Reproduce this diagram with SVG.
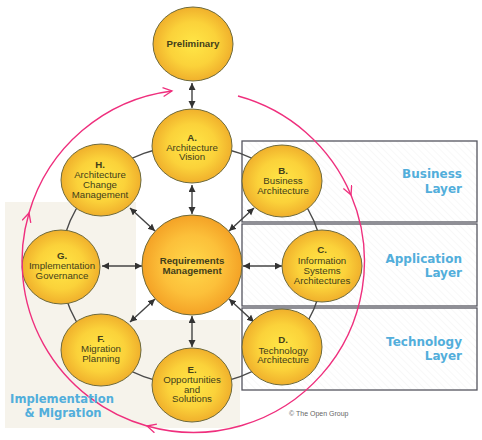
<svg xmlns="http://www.w3.org/2000/svg" width="482" height="440" viewBox="0 0 482 440">
<defs>
<radialGradient id="gy" cx="50%" cy="50%" r="50%">
<stop offset="0" stop-color="#ffe646"/>
<stop offset="0.6" stop-color="#fbd23a"/>
<stop offset="1" stop-color="#f0b02c"/>
</radialGradient>
<radialGradient id="go" cx="50%" cy="50%" r="50%">
<stop offset="0" stop-color="#ffd84a"/>
<stop offset="0.6" stop-color="#fcc03a"/>
<stop offset="1" stop-color="#f4a226"/>
</radialGradient>
<pattern id="hatch" width="5" height="5" patternUnits="userSpaceOnUse" patternTransform="rotate(-45)">
<rect width="5" height="5" fill="#ffffff"/>
<line x1="0" y1="0" x2="0" y2="5" stroke="#f1f1f1" stroke-width="1"/>
</pattern>
<marker id="ah" markerUnits="userSpaceOnUse" markerWidth="8" markerHeight="8" refX="7" refY="3.5" orient="auto-start-reverse">
<path d="M0,0 L7,3.5 L0,7 Z" fill="#333"/>
</marker>
<marker id="pk" markerUnits="userSpaceOnUse" markerWidth="12" markerHeight="12" refX="10" refY="5" orient="auto">
<path d="M1,0.5 L10,5 L1,9.5" fill="none" stroke="#ef2f7d" stroke-width="1.3"/>
</marker>
</defs>
<style>
.node{stroke:#6e6a3c;stroke-width:1}
.t{font-family:"Liberation Sans",Arial,sans-serif;font-size:9.7px;fill:#43401a;text-anchor:middle}
.b{font-weight:bold}
.layer{font-family:"DejaVu Sans",Verdana,sans-serif;font-weight:bold;font-size:12px;fill:#52aedb;text-anchor:end}
.box{fill:url(#hatch);stroke:#55555f;stroke-width:1.3}
.dbl{stroke:#444;stroke-width:1.4;fill:none;marker-start:url(#ah);marker-end:url(#ah)}
.pink{fill:none;stroke:#ef2f7d;stroke-width:1.4;marker-end:url(#pk)}
</style>
<rect width="482" height="440" fill="#ffffff"/>
<g id="impl-area">
<polygon points="5,202 136,202 136,320 240,320 240,428 5,428" fill="#f6f3eb"/>
</g>
<g id="layers">
<rect class="box" x="242" y="141" width="235" height="81"/>
<rect class="box" x="242" y="224" width="235" height="82"/>
<rect class="box" x="242" y="308" width="235" height="82"/>
</g>
<g id="connectors">
<ellipse cx="192" cy="265" rx="131" ry="120" fill="none" stroke="#4a4a4a" stroke-width="1.4"/>
<line class="dbl" x1="192" y1="83" x2="192" y2="108"/>
<line class="dbl" x1="192" y1="185" x2="192" y2="214"/>
<line class="dbl" x1="243" y1="266" x2="282" y2="266"/>
<line class="dbl" x1="142" y1="266" x2="102" y2="266"/>
<line class="dbl" x1="192" y1="316" x2="192" y2="347"/>
<line class="dbl" x1="229" y1="231" x2="254" y2="208"/>
<line class="dbl" x1="155" y1="231" x2="130" y2="208"/>
<line class="dbl" x1="155" y1="299" x2="130" y2="322"/>
<line class="dbl" x1="229" y1="299" x2="254" y2="322"/>
</g>
<g id="preliminary"><ellipse class="node" cx="193" cy="44" rx="40" ry="37" fill="url(#gy)"/><text class="t b" x="193" y="47" font-size="10">Preliminary</text></g>
<g id="A"><ellipse class="node" cx="192" cy="146" rx="40" ry="37" fill="url(#gy)"/><text class="t" x="192"><tspan class="b" x="192" y="141">A.</tspan><tspan x="192" y="150.5">Architecture</tspan><tspan x="192" y="160">Vision</tspan></text></g>
<g id="H"><ellipse class="node" cx="101" cy="180" rx="40" ry="36" fill="url(#gy)"/><text class="t" x="100"><tspan class="b" x="100" y="168">H.</tspan><tspan x="100" y="178">Architecture</tspan><tspan x="100" y="188">Change</tspan><tspan x="100" y="198">Management</tspan></text></g>
<g id="B"><ellipse class="node" cx="282" cy="181" rx="40" ry="36" fill="url(#gy)"/><text class="t" x="283"><tspan class="b" x="283" y="174">B.</tspan><tspan x="283" y="184">Business</tspan><tspan x="283" y="194">Architecture</tspan></text></g>
<g id="G"><ellipse class="node" cx="61" cy="267" rx="39" ry="37" fill="url(#gy)"/><text class="t" x="62"><tspan class="b" x="62" y="259">G.</tspan><tspan x="62" y="269">Implementation</tspan><tspan x="62" y="279">Governance</tspan></text></g>
<g id="RM"><circle class="node" cx="192" cy="265" r="50" fill="url(#go)"/><text class="t b" x="192"><tspan x="192" y="264">Requirements</tspan><tspan x="192" y="274">Management</tspan></text></g>
<g id="C"><ellipse class="node" cx="322" cy="266" rx="40" ry="36" fill="url(#gy)"/><text class="t" x="322"><tspan class="b" x="322" y="253">C.</tspan><tspan x="322" y="264">Information</tspan><tspan x="322" y="274">Systems</tspan><tspan x="322" y="284">Architectures</tspan></text></g>
<g id="D"><ellipse class="node" cx="282" cy="347" rx="40" ry="38" fill="url(#gy)"/><text class="t" x="283"><tspan class="b" x="283" y="343">D.</tspan><tspan x="283" y="353.5">Technology</tspan><tspan x="283" y="363">Architecture</tspan></text></g>
<g id="F"><ellipse class="node" cx="101" cy="350" rx="40" ry="36" fill="url(#gy)"/><text class="t" x="101"><tspan class="b" x="101" y="342">F.</tspan><tspan x="101" y="352">Migration</tspan><tspan x="101" y="362">Planning</tspan></text></g>
<g id="E"><ellipse class="node" cx="192" cy="385" rx="40" ry="37" fill="url(#gy)"/><text class="t" x="192"><tspan class="b" x="192" y="373">E.</tspan><tspan x="192" y="383">Opportunities</tspan><tspan x="192" y="392.5">and</tspan><tspan x="192" y="402">Solutions</tspan></text></g>
<g id="cycle">
<path class="pink" d="M238,96 A171,171 0 0 1 351,195"/>
<path class="pink" d="M351,195 A171,171 0 0 1 147,426"/>
<path class="pink" d="M147,426 A171,171 0 0 1 29,213"/>
<path class="pink" d="M29,213 A171,171 0 0 1 172,91"/>
</g>
<g id="labels">
<text class="layer"><tspan x="462" y="178">Business</tspan><tspan x="462" y="193">Layer</tspan></text>
<text class="layer"><tspan x="462" y="263">Application</tspan><tspan x="462" y="277">Layer</tspan></text>
<text class="layer"><tspan x="462" y="346">Technology</tspan><tspan x="462" y="360">Layer</tspan></text>
<text class="layer" style="text-anchor:middle;font-size:11.6px"><tspan x="62" y="403">Implementation</tspan><tspan x="63" y="417">&amp; Migration</tspan></text>
<text x="289" y="416" font-family="Liberation Sans, Arial, sans-serif" font-size="7" fill="#666">© The Open Group</text>
</g>
</svg>
